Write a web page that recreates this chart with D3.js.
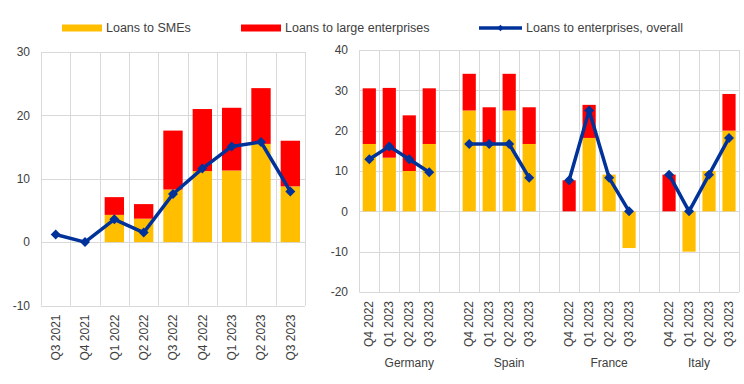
<!DOCTYPE html>
<html>
<head>
<meta charset="utf-8">
<script src="https://cdn.jsdelivr.net/npm/d3@7"></script>
<style>
  html, body { margin: 0; padding: 0; background: #fff; }
  svg { display: block; font-family: "Liberation Sans", Arial, sans-serif; }
  text { fill: #404040; }
</style>
</head>
<body>
<svg id="chart" width="744" height="384"></svg>
<script>
// ---------------- DATA ----------------
const legendLabels = ["Loans to SMEs", "Loans to large enterprises", "Loans to enterprises, overall"];

// Left panel: euro area over time
const leftCats = ["Q3 2021", "Q4 2021", "Q1 2022", "Q2 2022", "Q3 2022", "Q4 2022", "Q1 2023", "Q2 2023", "Q3 2023"];
const leftSME = [0, 0, 4.3, 3.7, 8.3, 11.2, 11.3, 15.5, 8.8];
const leftLarge = [0, 0, 2.8, 2.3, 9.3, 9.8, 9.9, 8.8, 7.2];
const leftOverall = [1.2, 0.0, 3.6, 1.5, 7.6, 11.6, 15.1, 15.8, 8.0];
const leftTicks = [-10, 0, 10, 20, 30];

// Right panel: by country
const countries = ["Germany", "Spain", "France", "Italy"];
const quarters = ["Q4 2022", "Q1 2023", "Q2 2023", "Q3 2023"];
const germanySME = [16.7, 13.3, 10.0, 16.7];
const germanyLarge = [13.8, 17.3, 13.8, 13.8];
const germanyOverall = [12.9, 16.1, 12.9, 9.7];
const spainSME = [25.0, 16.7, 25.0, 16.7];
const spainLarge = [9.1, 9.1, 9.1, 9.1];
const spainOverall = [16.7, 16.7, 16.7, 8.3];
const franceSME = [0, 18.2, 9.1, -9.1];
const franceLarge = [7.7, 8.2, 0, 0];
const franceOverall = [7.7, 25.0, 8.3, 0.0];
const italySME = [0, -10.0, 10.0, 20.0];
const italyLarge = [9.1, 0, 0, 9.1];
const italyOverall = [9.1, 0.0, 9.1, 18.2];
const rightTicks = [-20, -10, 0, 10, 20, 30, 40];

// ---------------- STYLE ----------------
const C_SME = "#FFBF00", C_LARGE = "#FF0000", C_LINE = "#003299", C_GRID = "#D9D9D9";
const svg = d3.select("#chart");

const diamond = d3.symbol().type(d3.symbolSquare).size(50);

function panel(opts) {
  const { cats, rows, yDomain, ticks, xRange, yRange, tickX, lineGroups, groupLabels } = opts;
  const x = d3.scaleBand().domain(cats).range(xRange).paddingInner(0).paddingOuter(0);
  const y = d3.scaleLinear().domain(yDomain).range(yRange);
  const g = svg.append("g");
  const bw = x.bandwidth() * 0.66;

  // grid
  g.append("g").selectAll("line.h").data(ticks).join("line")
    .attr("x1", xRange[0]).attr("x2", xRange[1])
    .attr("y1", d => Math.round(y(d)) + 0.5).attr("y2", d => Math.round(y(d)) + 0.5)
    .attr("stroke", C_GRID).attr("stroke-width", 1);
  const edges = cats.map(c => x(c)).concat([xRange[1]]);
  g.append("g").selectAll("line.v").data(edges).join("line")
    .attr("x1", d => Math.round(d) + 0.5).attr("x2", d => Math.round(d) + 0.5)
    .attr("y1", yRange[1]).attr("y2", yRange[0])
    .attr("stroke", C_GRID).attr("stroke-width", 1);

  // bars
  const stack = d3.stack().keys(["sme", "large"]).offset(d3.stackOffsetDiverging);
  const series = stack(rows.filter(r => r.sme !== null));
  const colors = { sme: C_SME, large: C_LARGE };
  g.append("g").selectAll("g").data(series).join("g")
    .attr("fill", s => colors[s.key])
    .selectAll("rect").data(s => s.filter(d => d[1] !== d[0])).join("rect")
    .attr("x", d => x(d.data.cat) + (x.bandwidth() - bw) / 2)
    .attr("width", bw)
    .attr("y", d => y(Math.max(d[0], d[1])))
    .attr("height", d => Math.abs(y(d[0]) - y(d[1])));

  // lines
  const line = d3.line().x(d => x(d.cat) + x.bandwidth() / 2).y(d => y(d.overall));
  lineGroups.forEach(grp => {
    g.append("path").datum(grp).attr("d", line)
      .attr("fill", "none").attr("stroke", C_LINE).attr("stroke-width", 3.5)
      .attr("stroke-linejoin", "round");
    g.append("g").selectAll("path").data(grp).join("path")
      .attr("d", diamond)
      .attr("transform", d => `translate(${x(d.cat) + x.bandwidth() / 2},${y(d.overall)}) rotate(45)`)
      .attr("fill", C_LINE);
  });

  // y axis labels
  const yAxis = d3.axisLeft(y).tickValues(ticks).tickSize(0).tickPadding(0).tickFormat(d => String(d));
  const ax = g.append("g").attr("transform", `translate(${tickX},0)`).call(yAxis);
  ax.select(".domain").remove();
  ax.selectAll("text").attr("font-size", 12).attr("fill", "#404040").style("font-family", "Liberation Sans, Arial, sans-serif");

  // x labels
  g.append("g").selectAll("text").data(cats.filter(c => opts.labelOf(c) !== "")).join("text")
    .attr("transform", c => `translate(${x(c) + x.bandwidth() / 2},${yRange[0] + 9}) rotate(-90)`)
    .attr("text-anchor", "end").attr("dy", "0.35em").attr("font-size", 12)
    .text(c => opts.labelOf(c));

  // group labels
  if (groupLabels) {
    g.append("g").selectAll("text").data(groupLabels).join("text")
      .attr("x", d => (x(d.first) + x(d.last) + x.bandwidth()) / 2)
      .attr("y", 367).attr("text-anchor", "middle").attr("font-size", 12)
      .text(d => d.name);
  }
}

// Left panel
const leftRows = leftCats.map((c, i) => ({
  cat: c, sme: leftSME[i], large: leftLarge[i], overall: leftOverall[i]
}));
panel({
  cats: leftCats, rows: leftRows, yDomain: [-10, 30], ticks: leftTicks,
  xRange: [41, 305], yRange: [305.5, 52], tickX: 30,
  lineGroups: [leftRows], labelOf: c => c
});

// Right panel
const cData = {
  Germany: [germanySME, germanyLarge, germanyOverall],
  Spain: [spainSME, spainLarge, spainOverall],
  France: [franceSME, franceLarge, franceOverall],
  Italy: [italySME, italyLarge, italyOverall]
};
const rightCats = [], rightRows = [], lineGroups = [], groupLabels = [];
countries.forEach((cn, ci) => {
  const grp = [];
  quarters.forEach((q, qi) => {
    const key = cn + "|" + q;
    rightCats.push(key);
    const r = { cat: key, sme: cData[cn][0][qi], large: cData[cn][1][qi], overall: cData[cn][2][qi] };
    rightRows.push(r); grp.push(r);
  });
  lineGroups.push(grp);
  let last = cn + "|" + quarters[quarters.length - 1];
  if (ci < countries.length - 1) { rightCats.push("gap" + ci); last = "gap" + ci; }
  groupLabels.push({ name: cn, first: cn + "|" + quarters[0], last: last });
});
panel({
  cats: rightCats, rows: rightRows, yDomain: [-20, 40], ticks: rightTicks,
  xRange: [359.3, 739], yRange: [292, 50], tickX: 348,
  lineGroups: lineGroups, groupLabels: groupLabels,
  labelOf: c => c.startsWith("gap") ? "" : c.split("|")[1]
});

// Legend
const lg = svg.append("g");
const legendX = [62, 241, 479];
const legendW = [40, 40, 43];
const ly = 28;
lg.append("rect").attr("x", legendX[0]).attr("y", ly - 3.5).attr("width", legendW[0]).attr("height", 7).attr("fill", C_SME);
lg.append("rect").attr("x", legendX[1]).attr("y", ly - 3.5).attr("width", legendW[1]).attr("height", 7).attr("fill", C_LARGE);
lg.append("line").attr("x1", legendX[2]).attr("x2", legendX[2] + legendW[2]).attr("y1", ly).attr("y2", ly)
  .attr("stroke", C_LINE).attr("stroke-width", 3.5);
lg.append("path").attr("d", d3.symbol().type(d3.symbolSquare).size(20))
  .attr("transform", `translate(${legendX[2] + legendW[2] / 2},${ly}) rotate(45)`).attr("fill", C_LINE);
lg.selectAll("text").data(legendLabels).join("text")
  .attr("x", (d, i) => legendX[i] + legendW[i] + 4).attr("y", ly).attr("dy", "0.35em")
  .attr("font-size", 12.5).text(d => d);
</script>
</body>
</html>
